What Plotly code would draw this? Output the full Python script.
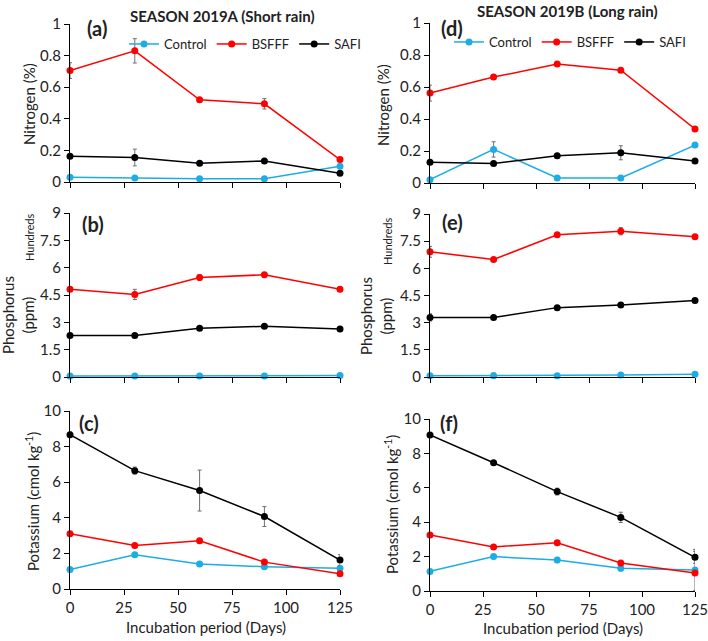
import plotly.graph_objects as go

W, H = 708, 641

days = [0, 30, 60, 90, 125]
names = ["Control", "BSFFF", "SAFI"]
colors = {"Control": "#1CADE4", "BSFFF": "#FF0000", "SAFI": "#000000"}

# Nitrogen (%) - season 2019A
n_a_control = [0.03, 0.025, 0.02, 0.02, 0.10]
n_a_control_err = [0.004, 0.004, 0.003, 0.003, 0.005]
n_a_bsfff = [0.705, 0.83, 0.52, 0.495, 0.142]
n_a_bsfff_err = [0.05, 0.077, 0.01, 0.033, 0.01]
n_a_safi = [0.163, 0.155, 0.119, 0.133, 0.055]
n_a_safi_err = [0.01, 0.053, 0.005, 0.008, 0.005]

# Nitrogen (%) - season 2019B
n_b_control = [0.021, 0.21, 0.031, 0.031, 0.237]
n_b_control_err = [0.005, 0.048, 0.005, 0.005, 0.01]
n_b_bsfff = [0.562, 0.662, 0.743, 0.705, 0.338]
n_b_bsfff_err = [0.05, 0.015, 0.008, 0.008, 0.01]
n_b_safi = [0.129, 0.122, 0.17, 0.189, 0.137]
n_b_safi_err = [0.01, 0.005, 0.01, 0.044, 0.01]

# Phosphorus (ppm, hundreds) - season 2019A
p_a_control = [0.05, 0.05, 0.05, 0.05, 0.08]
p_a_control_err = [0.02, 0.02, 0.02, 0.02, 0.02]
p_a_bsfff = [4.82, 4.53, 5.46, 5.61, 4.82]
p_a_bsfff_err = [0.05, 0.28, 0.15, 0.05, 0.05]
p_a_safi = [2.28, 2.28, 2.67, 2.78, 2.63]
p_a_safi_err = [0.05, 0.05, 0.05, 0.05, 0.05]

# Phosphorus (ppm, hundreds) - season 2019B
p_b_control = [0.07, 0.07, 0.07, 0.11, 0.15]
p_b_control_err = [0.05, 0.15, 0.02, 0.02, 0.02]
p_b_bsfff = [6.91, 6.49, 7.85, 8.05, 7.74]
p_b_bsfff_err = [0.3, 0.05, 0.08, 0.2, 0.05]
p_b_safi = [3.29, 3.29, 3.83, 3.98, 4.22]
p_b_safi_err = [0.2, 0.05, 0.05, 0.05, 0.05]

# Potassium (cmol/kg) - season 2019A
k_a_control = [1.10, 1.93, 1.40, 1.25, 1.16]
k_a_control_err = [0.05, 0.1, 0.08, 0.1, 0.1]
k_a_bsfff = [3.10, 2.45, 2.71, 1.51, 0.86]
k_a_bsfff_err = [0.05, 0.05, 0.1, 0.08, 0.05]
k_a_safi = [8.67, 6.65, 5.53, 4.07, 1.63]
k_a_safi_err = [0.15, 0.2, 1.15, 0.56, 0.3]

# Potassium (cmol/kg) - season 2019B
k_b_control = [1.14, 2.0, 1.80, 1.32, 1.22]
k_b_control_err = [0.05, 0.1, 0.15, 0.15, 1.2]
k_b_bsfff = [3.26, 2.56, 2.81, 1.63, 1.05]
k_b_bsfff_err = [0.05, 0.05, 0.05, 0.05, 0.05]
k_b_safi = [9.07, 7.46, 5.78, 4.28, 1.96]
k_b_safi_err = [0.1, 0.08, 0.2, 0.3, 0.35]

x_ticks = [0, 25, 50, 75, 100, 125]
n_ticks = [0, 0.2, 0.4, 0.6, 0.8, 1]
p_ticks = [0, 1.5, 3, 4.5, 6, 7.5, 9]
k_ticks = [0, 2, 4, 6, 8, 10]

FONT = "Lato"


def px_x(p):
    return p / W


def px_y(p):
    return 1 - p / H


# panel: (axis index, x pixel span, y pixel span, data, errors, y range, y ticks, legend)
panels = [
    (1, (70, 340), (24, 182), [n_a_control, n_a_bsfff, n_a_safi],
     [n_a_control_err, n_a_bsfff_err, n_a_safi_err], [0, 1], n_ticks, "legend"),
    (2, (70, 340), (213, 377), [p_a_control, p_a_bsfff, p_a_safi],
     [p_a_control_err, p_a_bsfff_err, p_a_safi_err], [0, 9], p_ticks, None),
    (3, (70, 340), (411, 589), [k_a_control, k_a_bsfff, k_a_safi],
     [k_a_control_err, k_a_bsfff_err, k_a_safi_err], [0, 10], k_ticks, None),
    (4, (430, 695), (23, 183), [n_b_control, n_b_bsfff, n_b_safi],
     [n_b_control_err, n_b_bsfff_err, n_b_safi_err], [0, 1], n_ticks, "legend2"),
    (5, (430, 695), (214, 377), [p_b_control, p_b_bsfff, p_b_safi],
     [p_b_control_err, p_b_bsfff_err, p_b_safi_err], [0, 9], p_ticks, None),
    (6, (430, 695), (419, 591), [k_b_control, k_b_bsfff, k_b_safi],
     [k_b_control_err, k_b_bsfff_err, k_b_safi_err], [0, 10], k_ticks, None),
]

fig = go.Figure()
layout = {}

for idx, xs, ys, data, errs, yr, yt, leg in panels:
    sfx = "" if idx == 1 else str(idx)
    for name, vals, err in zip(names, data, errs):
        fig.add_trace(go.Scatter(
            x=days, y=vals, name=name, mode="lines+markers",
            line=dict(color=colors[name], width=1.5),
            marker=dict(color=colors[name], size=7),
            error_y=dict(type="data", array=err, color="#6f6f6f",
                         thickness=1, width=2),
            xaxis="x" + sfx, yaxis="y" + sfx,
            showlegend=leg is not None, legend=leg if leg else "legend",
            cliponaxis=False,
        ))
    bottom = idx in (3, 6)
    layout["xaxis" + sfx] = dict(
        domain=[px_x(xs[0]), px_x(xs[1])], anchor="y" + sfx,
        range=[0, 125], tickvals=x_ticks, showticklabels=bottom,
        ticks="outside", ticklen=5, tickcolor="black",
        showline=True, linecolor="black", linewidth=1,
        showgrid=False, zeroline=False, automargin=False,
        ticklabeloverflow="allow",
        tickfont=dict(family=FONT, size=15, color="#222"),
    )
    layout["yaxis" + sfx] = dict(
        domain=[px_y(ys[1]), px_y(ys[0])], anchor="x" + sfx,
        range=yr, tickvals=yt, ticktext=[f"{v:g}" for v in yt],
        ticks="outside", ticklen=5, tickcolor="black",
        showline=True, linecolor="black", linewidth=1,
        showgrid=False, zeroline=False, automargin=False,
        ticklabeloverflow="allow",
        tickfont=dict(family=FONT, size=15, color="#222"),
    )

leg_style = dict(orientation="h", bgcolor="rgba(0,0,0,0)",
                 font=dict(family=FONT, size=13, color="#222"),
                 xanchor="left", yanchor="middle", itemwidth=30)
layout["legend"] = dict(x=px_x(124), y=px_y(44), **leg_style)
layout["legend2"] = dict(x=px_x(449), y=px_y(42), **leg_style)

ann = []


def text(x, y, s, size=13, bold=False, angle=0):
    ann.append(dict(
        x=px_x(x), y=px_y(y), xref="paper", yref="paper", text=s,
        showarrow=False, textangle=angle, xanchor="center", yanchor="middle",
        font=dict(family=FONT, size=size, color="#222",
                  weight="bold" if bold else "normal"),
    ))


text(222, 16, "SEASON 2019A (Short rain)", 15, bold=True)
text(567, 11, "SEASON 2019B (Long rain)", 15, bold=True)
for s, x, y in [("(a)", 97, 28), ("(b)", 93, 224), ("(c)", 89, 423),
                ("(d)", 452, 28), ("(e)", 452, 222), ("(f)", 449, 423)]:
    text(x, y, s, 20, bold=True)

text(29, 104, "Nitrogen (%)", 15, angle=-90)
text(383, 105, "Nitrogen (%)", 15, angle=-90)
text(18, 315, "Phosphorus<br>(ppm)", 15, angle=-90)
text(376, 316, "Phosphorus<br>(ppm)", 15, angle=-90)
text(30, 238, "Hundreds", 11, angle=-90)
text(387, 242, "Hundreds", 11, angle=-90)
text(32, 502, "Potassium (cmol kg<sup>-1</sup>)", 15, angle=-90)
text(391, 505, "Potassium (cmol kg<sup>-1</sup>)", 15, angle=-90)
text(206, 627, "Incubation period (Days)", 15)
text(563, 628, "Incubation period (Days)", 15)

layout["annotations"] = ann

fig.update_layout(
    width=W, height=H,
    margin=dict(l=0, r=0, t=0, b=0, autoexpand=False),
    paper_bgcolor="white", plot_bgcolor="white",
    font=dict(family=FONT, color="#222"),
    **layout,
)

# drop the default page margin so the 708x641 figure fills the window
fig.write_html("out.html", config={"displayModeBar": False},
               post_script="document.body.style.margin = '0';")
